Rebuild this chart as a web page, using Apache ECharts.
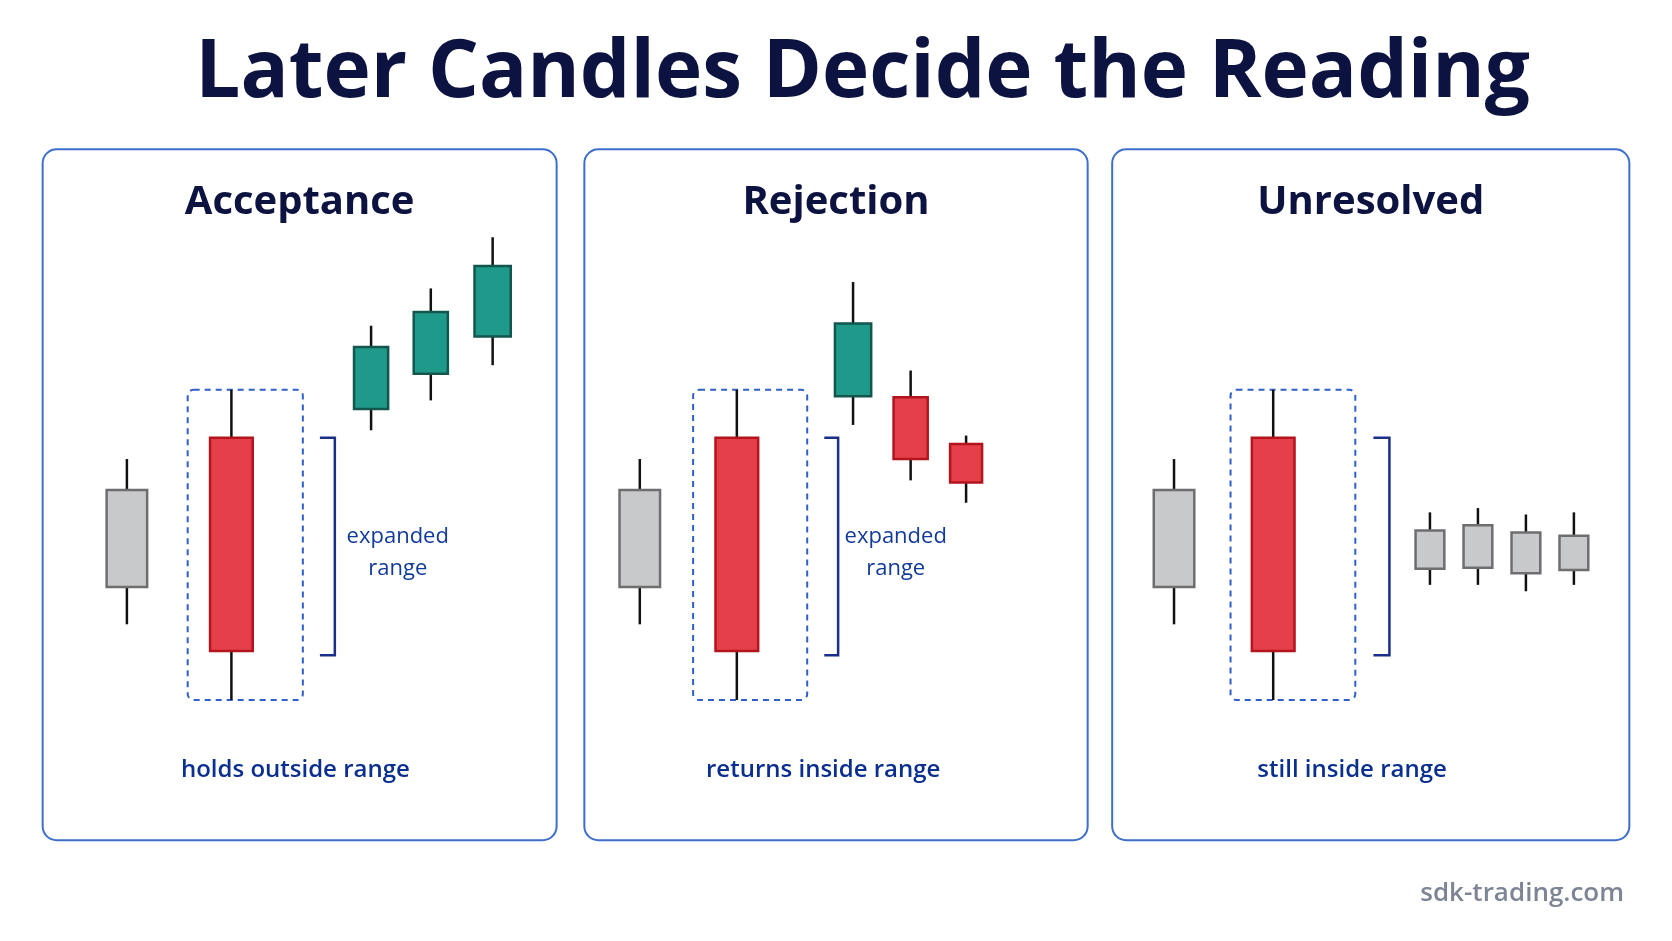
<!DOCTYPE html>
<html><head><meta charset="utf-8">
<script src="https://cdn.jsdelivr.net/npm/echarts@6/dist/echarts.min.js"></script>
<style>html,body{margin:0;padding:0;background:#fff}#c{width:1672px;height:941px}</style>
</head><body><div id="c"></div>
<script>
// Chart coordinate space: x 0..1568, price 0..882 (price = level on the diagram)
const panelTitles = ['Acceptance', 'Rejection', 'Unresolved'];
const panelNotes = ['holds outside range', 'returns inside range', 'still inside range'];
// candles: [x, open, close, low, high, width, kind]
const acceptanceCandles = [
  [119, 423, 332, 297, 452, 38, 'gray'],
  [217, 472, 272, 226, 517, 40, 'red'],
  [348, 499, 557, 479, 577, 32, 'teal'],
  [404, 532, 590, 507, 612, 32, 'teal'],
  [462, 567, 633, 540, 660, 34, 'teal']
];
const rejectionCandles = [
  [600, 423, 332, 297, 452, 38, 'gray'],
  [691, 472, 272, 226, 517, 40, 'red'],
  [800, 511, 579, 484, 618, 34, 'teal'],
  [854, 510, 452, 432, 535, 32, 'red'],
  [906, 466, 430, 411, 474, 30, 'red']
];
const unresolvedCandles = [
  [1101, 423, 332, 297, 452, 38, 'gray'],
  [1194, 472, 272, 226, 517, 40, 'red'],
  [1341, 385, 349, 334, 402, 27, 'gray'],
  [1386, 390, 350, 334, 406, 27, 'gray'],
  [1431, 383, 345, 328, 400, 27, 'gray'],
  [1476, 380, 348, 334, 402, 27, 'gray']
];
// dashed boxes: [x0, x1, low, high]
const rangeBoxes = [[176, 284, 226, 517], [650, 757, 226, 517], [1154, 1271, 226, 517]];
// brackets: [x0, x1, low, high]
const brackets = [[300, 314, 268, 472], [773, 786, 268, 472], [1288, 1303, 268, 472]];
const bracketLabels = [[373, 'expanded', 'range'], [840, 'expanded', 'range']];

const K = 1672 / 1568;
const colors = {
  gray: ['#c8c9cb', '#6e6e70'],
  red: ['#e5404a', '#b3141d'],
  teal: ['#1f9a8a', '#12564e']
};
const allCandles = acceptanceCandles.concat(rejectionCandles, unresolvedCandles);

const chart = echarts.init(document.getElementById('c'));
const panelsX = [[40, 522], [548, 1020], [1043, 1528]];
const graphics = [];
panelsX.forEach((p, i) => {
  graphics.push({type: 'rect', z: 0, shape: {x: p[0]*K, y: 140*K, width: (p[1]-p[0])*K, height: 648*K, r: 14},
    style: {fill: '#fff', stroke: '#3d6fc9', lineWidth: 2}});
  graphics.push({type: 'text', z: 5, x: (p[0]+p[1])/2*K, y: 190*K, style: {text: panelTitles[i], fill: '#0d1340',
    font: 'bold 40px "Open Sans", sans-serif', textAlign: 'center', textVerticalAlign: 'middle'}});
});
const noteX = [277, 772, 1268];
panelNotes.forEach((t, i) => graphics.push({type: 'text', z: 5, x: noteX[i]*K, y: 722*K,
  style: {text: t, fill: '#0b2f8f', font: '600 24px "Open Sans", sans-serif', textAlign: 'center', textVerticalAlign: 'middle'}}));
bracketLabels.forEach(b => {
  graphics.push({type: 'text', z: 5, x: b[0]*K, y: 503*K, style: {text: b[1], fill: '#123a9a', font: '22px "Open Sans", sans-serif', textAlign: 'center', textVerticalAlign: 'middle'}});
  graphics.push({type: 'text', z: 5, x: b[0]*K, y: 533*K, style: {text: b[2], fill: '#123a9a', font: '22px "Open Sans", sans-serif', textAlign: 'center', textVerticalAlign: 'middle'}});
});
graphics.push({type: 'text', z: 5, x: 809*K, y: 70*K, style: {text: 'Later Candles Decide the Reading', fill: '#0d1340',
  font: 'bold 80px "Open Sans", sans-serif', textAlign: 'center', textVerticalAlign: 'middle'}});
graphics.push({type: 'text', z: 5, x: 1523*K, y: 838*K, style: {text: 'sdk-trading.com', fill: '#7d8594',
  font: '600 26px "Open Sans", sans-serif', textAlign: 'right', textVerticalAlign: 'middle'}});

chart.setOption({
  animation: false,
  graphic: graphics,
  grid: {left: 0, right: 0, top: 0, bottom: 0},
  xAxis: {type: 'value', min: 0, max: 1568, show: false},
  yAxis: {type: 'value', min: 0, max: 882.5, show: false},
  series: [
    {type: 'custom', z: 10, data: rangeBoxes, renderItem: (params, api) => {
      const a = api.coord([api.value(0), api.value(3)]), b = api.coord([api.value(1), api.value(2)]);
      return {type: 'rect', shape: {x: a[0], y: a[1], width: b[0]-a[0], height: b[1]-a[1], r: 6},
        style: {fill: 'none', stroke: '#2e60c8', lineWidth: 2, lineDash: [6, 5]}};
    }},
    {type: 'custom', z: 10, data: brackets, renderItem: (params, api) => {
      const a = api.coord([api.value(0), api.value(3)]), b = api.coord([api.value(1), api.value(2)]);
      return {type: 'polyline', shape: {points: [[a[0], a[1]], [b[0], a[1]], [b[0], b[1]], [a[0], b[1]]]},
        style: {fill: 'none', stroke: '#1a2f8a', lineWidth: 2.5}};
    }},
    {type: 'custom', z: 20, data: allCandles, renderItem: (params, api) => {
      const d = allCandles[params.dataIndex];
      const x = d[0], o = d[1], c = d[2], lo = d[3], hi = d[4], w = d[5];
      const pHi = api.coord([x, hi]), pLo = api.coord([x, lo]);
      const pTop = api.coord([x - w/2, Math.max(o, c)]), pBot = api.coord([x + w/2, Math.min(o, c)]);
      const col = colors[d[6]];
      return {type: 'group', children: [
        {type: 'line', shape: {x1: pHi[0], y1: pHi[1], x2: pLo[0], y2: pLo[1]}, style: {stroke: '#111', lineWidth: 2.5}},
        {type: 'rect', shape: {x: pTop[0], y: pTop[1], width: pBot[0]-pTop[0], height: pBot[1]-pTop[1]},
          style: {fill: col[0], stroke: col[1], lineWidth: 2.5}}
      ]};
    }}
  ]
});
</script></body></html>
